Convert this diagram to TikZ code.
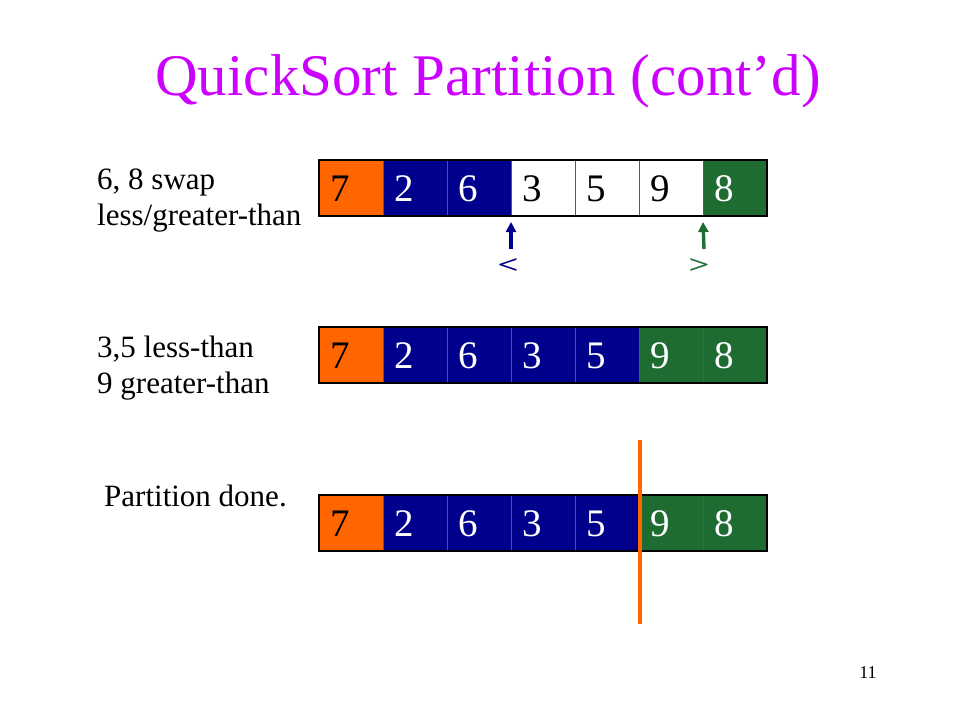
\documentclass[tikz,border=0pt]{standalone}
\usepackage{fontspec}
\setmainfont{Liberation Serif}
\usetikzlibrary{arrows.meta}
\definecolor{qorange}{RGB}{255,102,0}
\definecolor{qnavy}{RGB}{0,0,140}
\definecolor{qgreen}{RGB}{30,108,50}
\definecolor{qmag}{RGB}{204,0,255}
\tikzset{
  cellbox/.style={minimum width=64pt,minimum height=56pt,inner sep=0pt,outer sep=0pt,draw=black!65,line width=0.7pt},
  orangecell/.style={cellbox,fill=qorange},
  navycell/.style={cellbox,fill=qnavy},
  greencell/.style={cellbox,fill=qgreen},
  whitecell/.style={cellbox,fill=white},
  digit/.style={anchor=west,inner sep=0pt,font=\fontsize{39}{40}\selectfont},
  lbl/.style={anchor=west,inner sep=0pt,align=left,font=\fontsize{31}{36}\selectfont},
  frame/.style={draw=black,line width=2.6pt},
  ptr/.style={line width=3.4pt,-{Triangle[length=10pt,width=10pt]}},
  cmp/.style={font=\fontsize{32}{36}\selectfont\bfseries,inner sep=0pt}
}
\begin{document}
\begin{tikzpicture}[x=1pt,y=-1pt]
\useasboundingbox (0,0) rectangle (960,720);
\node[text=qmag,font=\fontsize{59}{62}\selectfont,inner sep=0pt] (title) at (488,81) {QuickSort Partition (cont’d)};
% labels
\node[lbl] (l1) at (97,201) {6, 8 swap\\less/greater-than};
\node[lbl] (l2) at (97,368) {3,5 less-than\\9 greater-than};
\node[lbl] (l3) at (104,496) {Partition done.};
% row 1
\foreach \i/\s/\d/\c in {0/orangecell/7/black,1/navycell/2/white,2/navycell/6/white,3/whitecell/3/black,4/whitecell/5/black,5/whitecell/9/black,6/greencell/8/white}{
  \node[\s,anchor=north west] (a\i) at ({319+64*\i},160) {};
  \node[digit,text=\c] (ad\i) at ({330+64*\i},189) {\d};
}
\draw[frame] (a0.north west) rectangle (a6.south east);
% row 2
\foreach \i/\s/\d/\c in {0/orangecell/7/black,1/navycell/2/white,2/navycell/6/white,3/navycell/3/white,4/navycell/5/white,5/greencell/9/white,6/greencell/8/white}{
  \node[\s,anchor=north west] (b\i) at ({319+64*\i},327) {};
  \node[digit,text=\c] (bd\i) at ({330+64*\i},356) {\d};
}
\draw[frame] (b0.north west) rectangle (b6.south east);
% row 3
\foreach \i/\s/\d/\c in {0/orangecell/7/black,1/navycell/2/white,2/navycell/6/white,3/navycell/3/white,4/navycell/5/white,5/greencell/9/white,6/greencell/8/white}{
  \node[\s,anchor=north west] (c\i) at ({319+64*\i},495) {};
  \node[digit,text=\c] (cd\i) at ({330+64*\i},524) {\d};
}
\draw[frame] (c0.north west) rectangle (c6.south east);
% pointers
\coordinate (pl) at (511,249);
\coordinate (pg) at (704,249);
\draw[ptr,draw=qnavy,fill=qnavy] (pl) -- ([yshift=-6pt]a3.south west);
\draw[ptr,draw=qgreen,fill=qgreen] (pg) -- ([yshift=-6pt]a6.south west);
\node[cmp,text=qnavy] (lt) at (508,266) {\scalebox{1.15}[0.8]{<}};
\node[cmp,text=qgreen] (gt) at (699,266) {\scalebox{1.15}[0.8]{>}};
% partition line
\coordinate (pt) at (640,440);
\coordinate (pb) at (640,624);
\draw[qorange,line width=3.2pt] (pt) -- (pb);
% page number
\node[font=\fontsize{18}{20}\selectfont,inner sep=0pt] (pn) at (868,673) {11};
\end{tikzpicture}
\end{document}
